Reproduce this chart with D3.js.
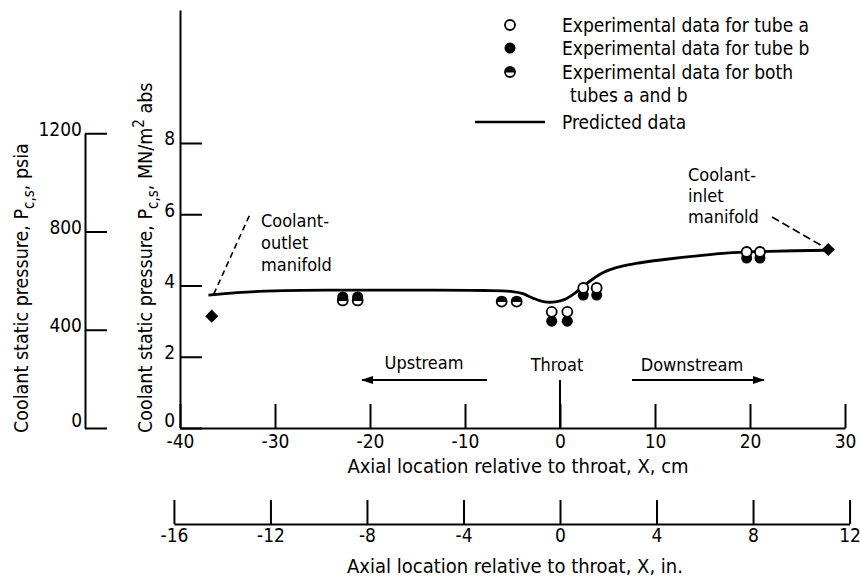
<!DOCTYPE html>
<html lang="en">
<head>
  <meta charset="utf-8">
  <title>coolantPressure</title>
  <script src="https://d3js.org/d3.v7.min.js"></script>
  <style type="text/css">
    body { margin: 0; background: #fff; }
    svg text {
      font-family: "Liberation Sans Narrow", "DejaVu Sans Condensed", "Arial Narrow", sans-serif;
      font-stretch: condensed;
      font-size: 18px;
      fill: #000;
    }
    .axis path.domain, .axis .tick line { stroke: #000; stroke-width: 2; }
    text.title { font-size: 20px; }
    text.yTitle { font-size: 19.5px; }
    text.legendText { font-size: 19px; }
  </style>
</head>
<body>
  <script>
    // config
    const width = 860, height = 580;

    // axis ticks
    const cmTicks = [-40, -30, -20, -10, 0, 10, 20, 30];
    const inTicks = [-16, -12, -8, -4, 0, 4, 8, 12];
    const mnTicks = [0, 2, 4, 6, 8];
    const psiaTicks = [0, 400, 800, 1200];

    // predicted curve (X in cm, pressure in MN/m^2)
    const predictedX = [-37.0, -34, -30, -24, -15, -8, -5, -3.9, -2.8, -1.6, -0.5, 0.5, 1.5, 2.5, 3.5, 4.5, 6, 8, 11, 14.7, 18.2, 22, 28.2];
    const predictedP = [3.73, 3.80, 3.85, 3.87, 3.87, 3.86, 3.83, 3.77, 3.64, 3.54, 3.54, 3.61, 3.77, 3.99, 4.19, 4.36, 4.51, 4.62, 4.73, 4.84, 4.92, 4.96, 4.99];

    // experimental data
    const tubeAX = [-0.87, 0.77, 2.45, 3.86, 19.65, 21.05];
    const tubeAP = [3.26, 3.26, 3.93, 3.93, 4.94, 4.94];
    const tubeBX = [-22.87, -21.3, -0.87, 0.77, 2.45, 3.86, 19.65, 21.05];
    const tubeBP = [3.68, 3.68, 3.0, 3.0, 3.73, 3.73, 4.77, 4.77];
    const bothX = [-22.87, -21.3, -6.14, -4.56];
    const bothP = [3.58, 3.58, 3.55, 3.55];

    // manifolds
    const manifoldX = [-36.66, 28.24];
    const manifoldP = [3.14, 5.01];

    const legendLabels = ["Experimental data for tube a", "Experimental data for tube b",
      "Experimental data for both", "tubes a and b", "Predicted data"];

    const CM_PER_IN = 2.54, MN_PER_PSI = 0.00689476;

    let svg, xScale, yScale, inScale, psiaScale;

    function createSvg() {
      svg = d3.select("body").append("svg")
        .attr("width", width).attr("height", height);
      svg.append("defs").append("marker")
        .attr("id", "head").attr("viewBox", "0 0 12 8")
        .attr("refX", 11).attr("refY", 4)
        .attr("markerWidth", 12).attr("markerHeight", 8)
        .attr("markerUnits", "userSpaceOnUse")
        .attr("orient", "auto")
        .append("path").attr("d", "M0,0L12,4L0,8Z").attr("fill", "#000");
    }

    function createScales() {
      xScale = d3.scaleLinear().domain([-40, 30]).range([180, 845]);
      yScale = d3.scaleLinear().domain([0, 8]).range([428, 143]);
      inScale = d3.scaleLinear().domain([-16, 12])
        .range([xScale(-16 * CM_PER_IN), xScale(12 * CM_PER_IN)]);
      psiaScale = d3.scaleLinear().domain([0, 1200])
        .range([yScale(0), yScale(1200 * MN_PER_PSI)]);
    }

    function renderAxes() {
      const plain = d => String(d); // keep hyphen minus like the original

      // cm axis
      svg.append("g").attr("class", "axis")
        .attr("transform", `translate(0,${yScale(0)})`)
        .call(d3.axisBottom(xScale).tickValues(cmTicks).tickFormat(plain)
          .tickSize(-24).tickSizeOuter(0).tickPadding(7));
      // throat line
      svg.append("line")
        .attr("x1", xScale(0)).attr("x2", xScale(0))
        .attr("y1", 380).attr("y2", yScale(0))
        .attr("stroke", "#000").attr("stroke-width", 2);
      svg.append("text").attr("class", "title").text("Axial location relative to throat, X, cm")
        .attr("x", 518).attr("y", 473).attr("text-anchor", "middle");

      // inch axis
      svg.append("g").attr("class", "axis")
        .attr("transform", "translate(0,524)")
        .call(d3.axisBottom(inScale).tickValues(inTicks).tickFormat(plain)
          .tickSize(-24).tickSizeOuter(0).tickPadding(4));
      svg.append("text").attr("class", "title").text("Axial location relative to throat, X, in.")
        .attr("x", 515).attr("y", 573).attr("text-anchor", "middle");

      // MN/m2 axis, line runs up to the top of the page
      let yAxisScale = yScale.copy().domain([0, yScale.invert(10)]).range([yScale(0), 10]);
      svg.append("g").attr("class", "axis yAxis")
        .attr("transform", `translate(${xScale(-40)},0)`)
        .call(d3.axisLeft(yAxisScale).tickValues(mnTicks).tickFormat(plain)
          .tickSize(-22).tickSizeOuter(0).tickPadding(5));

      // psia axis
      svg.append("g").attr("class", "axis yAxis")
        .attr("transform", "translate(85,0)")
        .call(d3.axisLeft(psiaScale).tickValues(psiaTicks).tickFormat(plain)
          .tickSize(-22).tickSizeOuter(0).tickPadding(3));

      svg.selectAll(".axis text").style("font-size", "19px")
        .style("font-family", null);
      svg.selectAll(".yAxis text").attr("dy", "0.1em");
      // the zero labels sit on the baseline, just above the cm labels
      svg.selectAll(".yAxis .tick text").filter(d => d === 0).attr("dy", "-0.1em");

      // rotated titles
      let t1 = svg.append("text").attr("class", "yTitle")
        .attr("transform", "translate(28,433) rotate(-90)");
      t1.append("tspan").text("Coolant static pressure,  P");
      t1.append("tspan").text("c,s").attr("dy", 6).style("font-size", "15px");
      t1.append("tspan").text(",  psia").attr("dy", -6);

      let t2 = svg.append("text").attr("class", "yTitle")
        .attr("transform", "translate(152,433) rotate(-90)");
      t2.append("tspan").text("Coolant static pressure,  P");
      t2.append("tspan").text("c,s").attr("dy", 6).style("font-size", "15px");
      t2.append("tspan").text(",  MN/m").attr("dy", -6);
      t2.append("tspan").text("2").attr("dy", -8).style("font-size", "15px");
      t2.append("tspan").text(" abs").attr("dy", 8);
    }

    function renderLine() {
      let line = d3.line()
        .x(d => xScale(d[0])).y(d => yScale(d[1]))
        .curve(d3.curveCatmullRom.alpha(0.5));
      svg.append("path")
        .datum(d3.zip(predictedX, predictedP))
        .attr("d", line)
        .attr("fill", "none").attr("stroke", "#000").attr("stroke-width", 2.8);
    }

    function openCircle(g, cx, cy) {
      g.append("circle").attr("cx", cx).attr("cy", cy).attr("r", 5)
        .attr("fill", "#fff").attr("stroke", "#000").attr("stroke-width", 1.8);
    }
    function filledCircle(g, cx, cy) {
      g.append("circle").attr("cx", cx).attr("cy", cy).attr("r", 5.5)
        .attr("fill", "#000");
    }
    function halfCircle(g, cx, cy) {
      g.append("circle").attr("cx", cx).attr("cy", cy).attr("r", 5)
        .attr("fill", "#fff").attr("stroke", "#000").attr("stroke-width", 1.8);
      g.append("path")
        .attr("d", `M${cx - 5},${cy + 0.5}A5,5 0 0 1 ${cx + 5},${cy + 0.5}Z`)
        .attr("fill", "#000");
    }

    function renderPoints() {
      let g = svg.append("g");
      d3.zip(tubeBX, tubeBP).forEach(d => filledCircle(g, xScale(d[0]), yScale(d[1])));
      d3.zip(tubeAX, tubeAP).forEach(d => openCircle(g, xScale(d[0]), yScale(d[1])));
      d3.zip(bothX, bothP).forEach(d => halfCircle(g, xScale(d[0]), yScale(d[1])));

      let diamond = d3.symbol().type(d3.symbolSquare).size(85);
      g.selectAll("path.manifold").data(d3.zip(manifoldX, manifoldP)).join("path")
        .attr("class", "manifold")
        .attr("d", diamond)
        .attr("transform", d => `translate(${xScale(d[0])},${yScale(d[1])}) rotate(45)`)
        .attr("fill", "#000");
    }

    function renderAnnotations() {
      // outlet manifold
      [["Coolant-", 221], ["outlet", 243], ["manifold", 265]].forEach(d => {
        svg.append("text").text(d[0]).attr("x", 261).attr("y", d[1]).attr("dy", "0.35em");
      });
      svg.append("line")
        .attr("x1", xScale(manifoldX[0]) + 2).attr("y1", yScale(manifoldP[0]) - 22)
        .attr("x2", 251).attr("y2", 212)
        .attr("stroke", "#000").attr("stroke-width", 1.6).attr("stroke-dasharray", "6,4");

      // inlet manifold
      [["Coolant-", 175], ["inlet", 196], ["manifold", 217]].forEach(d => {
        svg.append("text").text(d[0]).attr("x", 688).attr("y", d[1]).attr("dy", "0.35em");
      });
      svg.append("line")
        .attr("x1", 772).attr("y1", 217)
        .attr("x2", xScale(manifoldX[1]) - 5).attr("y2", yScale(manifoldP[1]) - 3)
        .attr("stroke", "#000").attr("stroke-width", 1.6).attr("stroke-dasharray", "8,4");

      // direction arrows
      svg.append("text").text("Upstream").attr("x", 424).attr("y", 363)
        .attr("dy", "0.35em").attr("text-anchor", "middle");
      svg.append("text").text("Throat").attr("x", 557).attr("y", 365)
        .attr("dy", "0.35em").attr("text-anchor", "middle");
      svg.append("text").text("Downstream").attr("x", 692).attr("y", 365)
        .attr("dy", "0.35em").attr("text-anchor", "middle");
      svg.append("line").attr("x1", 487).attr("x2", 362).attr("y1", 380).attr("y2", 380)
        .attr("stroke", "#000").attr("stroke-width", 2).attr("marker-end", "url(#head)");
      svg.append("line").attr("x1", 632).attr("x2", 764).attr("y1", 380).attr("y2", 380)
        .attr("stroke", "#000").attr("stroke-width", 2).attr("marker-end", "url(#head)");
    }

    function renderLegend() {
      let g = svg.append("g");
      let mx = 510, tx = 562;
      let rows = [25, 48, 72, 95, 122];
      openCircle(g, mx, rows[0]);
      filledCircle(g, mx, rows[1]);
      halfCircle(g, mx, rows[2]);
      g.append("line").attr("x1", 475).attr("x2", 545).attr("y1", rows[4]).attr("y2", rows[4])
        .attr("stroke", "#000").attr("stroke-width", 2.5);
      legendLabels.forEach((d, i) => {
        g.append("text").attr("class", "legendText").text(d)
          .attr("x", i === 3 ? tx + 8 : tx).attr("y", rows[i]).attr("dy", "0.35em");
      });
    }

    function main() {
      createSvg();
      createScales();
      renderAxes();
      renderLine();
      renderPoints();
      renderAnnotations();
      renderLegend();
    }
    main();
  </script>
</body>
</html>
